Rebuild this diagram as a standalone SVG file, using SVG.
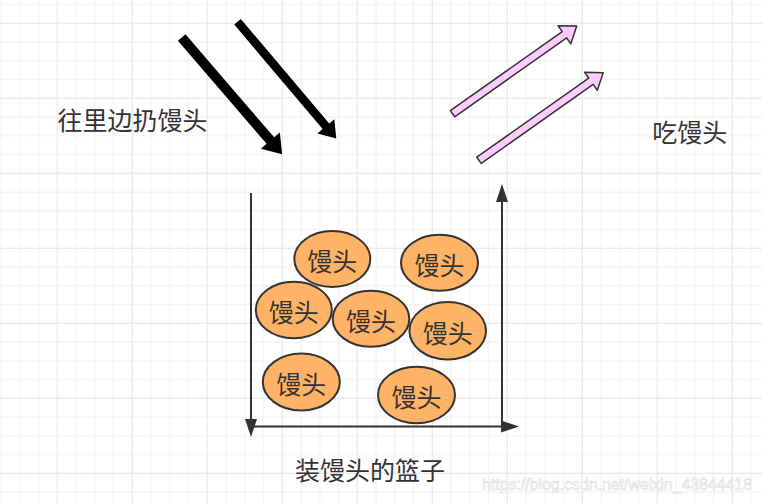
<svg xmlns="http://www.w3.org/2000/svg" width="762" height="503" viewBox="0 0 762 503">
<defs>
<pattern id="grid" patternUnits="userSpaceOnUse" x="-18.25" y="22.75" width="75" height="75">
<rect x="0" y="0" width="75" height="75" fill="#ffffff"/>
<rect x="18.75" y="0" width="1" height="75" fill="#f0f0f0"/>
<rect x="37.5" y="0" width="1" height="75" fill="#f0f0f0"/>
<rect x="56.25" y="0" width="1" height="75" fill="#f0f0f0"/>
<rect x="0" y="18.75" width="75" height="1" fill="#f0f0f0"/>
<rect x="0" y="37.5" width="75" height="1" fill="#f0f0f0"/>
<rect x="0" y="56.25" width="75" height="1" fill="#f0f0f0"/>
<rect x="0" y="0" width="1" height="75" fill="#e4e4e4"/>
<rect x="0" y="0" width="75" height="1" fill="#e4e4e4"/>
</pattern>
<marker id="head" markerUnits="userSpaceOnUse" markerWidth="18" markerHeight="12" refX="0" refY="6" orient="auto" overflow="visible">
<path d="M0,0 L18,6 L0,12 Z" fill="#333333"/>
</marker>
</defs>
<style>
.lbl{font-family:"Noto Sans CJK SC","Noto Sans",sans-serif;font-size:25px;fill:#333333;text-anchor:middle;dominant-baseline:central}
.bun ellipse{fill:#FFB366;stroke:#333333;stroke-width:2}
.axis{stroke:#333333;stroke-width:2;fill:none;marker-end:url(#head)}
.blk{fill:#000000}
.pink{fill:#FFCCFF;stroke:#333333;stroke-width:1.5;stroke-linejoin:round}
.wm{font-family:"Liberation Sans",Arial,sans-serif;font-size:16px;fill:#ffffff;stroke:#dcdcdc;stroke-width:0.6}
</style>
<rect x="0" y="0" width="762" height="503" fill="url(#grid)"/>

<g id="connectors">
<path id="arrow-in-1" class="blk" transform="translate(181.7,37.5) rotate(49.3)" d="M0,-5 L136,-5 L136,-12.5 L154,0 L136,12.5 L136,5 L0,5 Z"/>
<path id="arrow-in-2" class="blk" transform="translate(237.5,21.7) rotate(49.8)" d="M0,-4.3 L137,-4.3 L137,-11 L153,0 L137,11 L137,4.3 L0,4.3 Z"/>
<path id="arrow-out-1" class="pink" transform="translate(452.5,113.7) rotate(-35.2)" d="M0,-3.8 L137,-3.8 L137,-11 L152,0 L137,11 L137,3.8 L0,3.8 Z"/>
<path id="arrow-out-2" class="pink" transform="translate(479,160.3) rotate(-35.2)" d="M0,-3.8 L137,-3.8 L137,-11 L152,0 L137,11 L137,3.8 L0,3.8 Z"/>
<line id="basket-left" class="axis" x1="251" y1="193" x2="251" y2="419"/>
<line id="basket-bottom" class="axis" x1="251" y1="426.5" x2="501" y2="426.5"/>
<line id="basket-right" class="axis" x1="502" y1="426.5" x2="502" y2="202"/>
</g>

<g id="label-throw"><text class="lbl" x="132.5" y="118.5">往里边扔馒头</text></g>
<g id="label-eat"><text class="lbl" x="689.7" y="130.5">吃馒头</text></g>
<g id="label-basket"><text class="lbl" x="370" y="469">装馒头的篮子</text></g>

<g id="bun-1" class="bun"><ellipse cx="332.3" cy="259" rx="38" ry="28"/><text class="lbl" x="332.3" y="260">馒头</text></g>
<g id="bun-2" class="bun"><ellipse cx="439.5" cy="262.8" rx="38.5" ry="28"/><text class="lbl" x="439.5" y="263.8">馒头</text></g>
<g id="bun-3" class="bun"><ellipse cx="293.8" cy="310" rx="38" ry="28.3"/><text class="lbl" x="293.8" y="311">馒头</text></g>
<g id="bun-4" class="bun"><ellipse cx="371" cy="318.8" rx="38.3" ry="28"/><text class="lbl" x="371" y="319.8">馒头</text></g>
<g id="bun-5" class="bun"><ellipse cx="447.7" cy="330.8" rx="38.3" ry="28.8"/><text class="lbl" x="447.7" y="331.8">馒头</text></g>
<g id="bun-6" class="bun"><ellipse cx="301.3" cy="382" rx="38.5" ry="28.5"/><text class="lbl" x="301.3" y="383">馒头</text></g>
<g id="bun-7" class="bun"><ellipse cx="416.5" cy="395" rx="38.5" ry="28.3"/><text class="lbl" x="416.5" y="396">馒头</text></g>

<g id="watermark"><text class="wm" x="482" y="490" textLength="270" lengthAdjust="spacingAndGlyphs">https://blog.csdn.net/weixin_43844418</text></g>
</svg>
